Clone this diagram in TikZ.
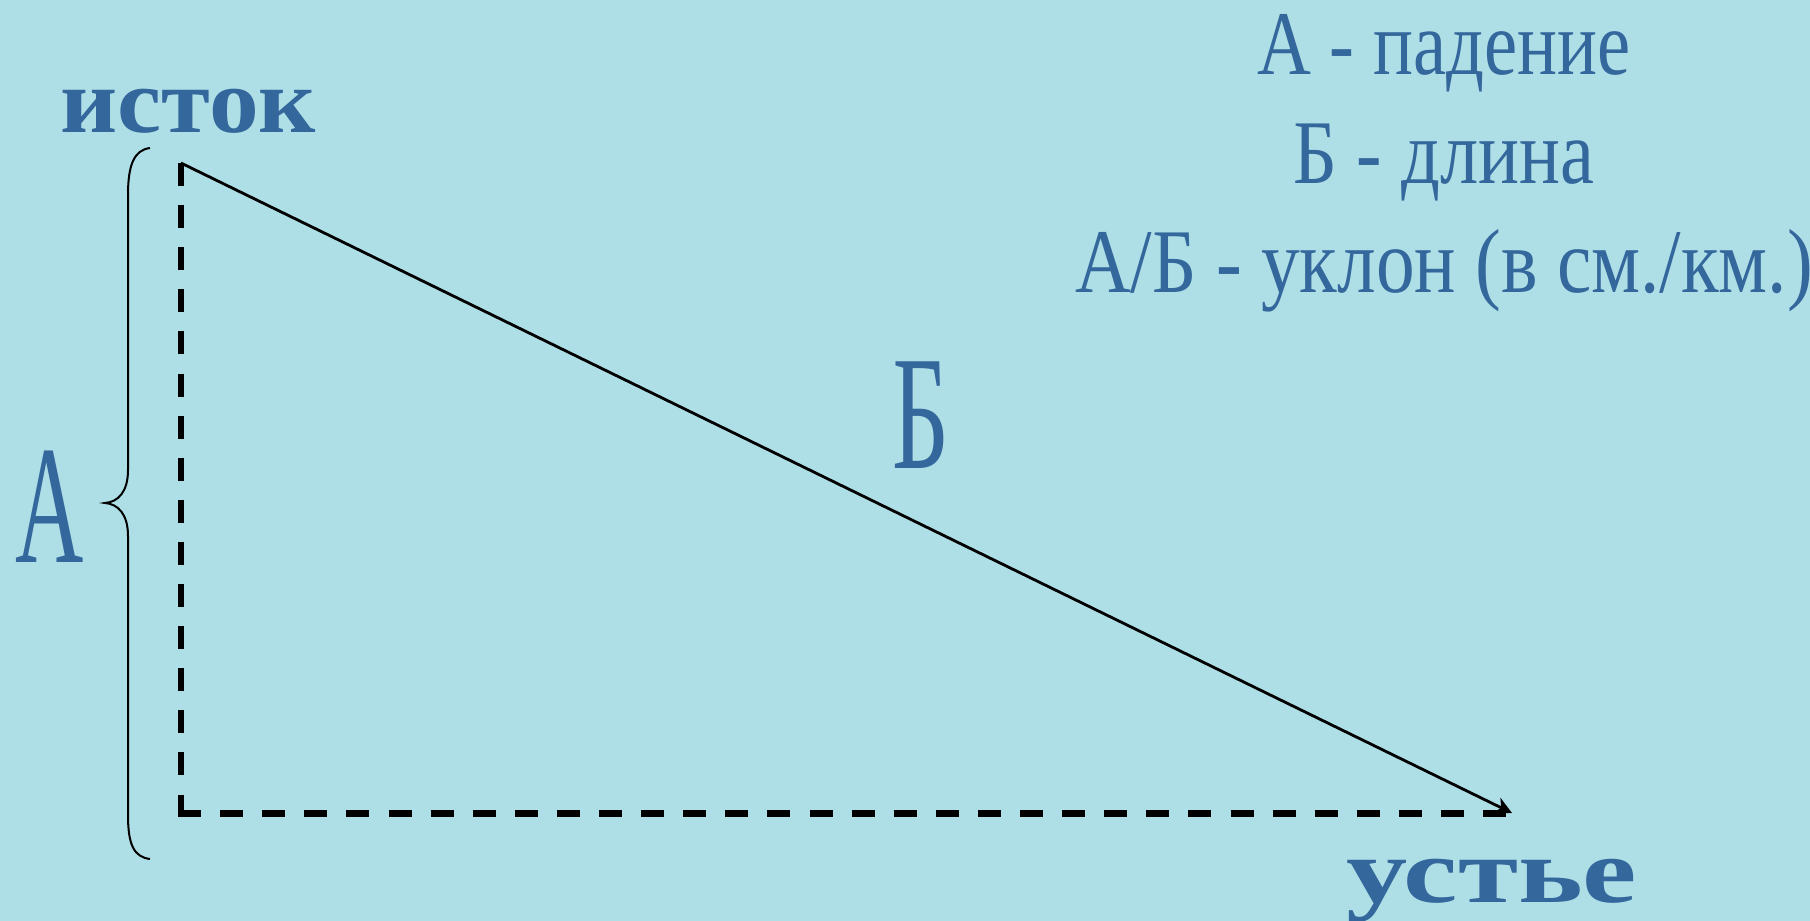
\documentclass[tikz,border=0pt]{standalone}
\usepackage{fontspec}
\setmainfont{Liberation Serif}
\usetikzlibrary{arrows.meta}
\definecolor{bgc}{HTML}{AEDFE7}
\definecolor{txt}{HTML}{34679C}
\tikzset{
  lbl/.style={inner sep=0pt, text=txt},
  dashline/.style={draw=black, line width=6.5pt, dash pattern=on 23pt off 19.1pt},
  slope/.style={draw=black, line width=2.8pt, -{Stealth[length=17pt,width=17pt,inset=5pt]}},
  bracepath/.style={draw=black, line width=2pt}
}
\begin{document}
\begin{tikzpicture}[x=1pt,y=-1pt]
\useasboundingbox (0,0) rectangle (1810,921);
\fill[bgc] (0,0) rectangle (1810,921);
% key points
\coordinate (src) at (181,163);
\coordinate (corner) at (181,817);
\coordinate (hstart) at (178,813.5);
\coordinate (dashend) at (1508,813.5);
\coordinate (mouth) at (1512,813);
% dashed legs
\draw[dashline] (src) -- (corner);
\draw[dashline] (hstart) -- (dashend);
% slope line with arrow
\draw[slope] (src) -- (mouth);
% brace
\draw[bracepath] (150,148) .. controls (134,150) and (128,165) .. (128,195)
  -- (128,470) .. controls (128,492) and (118,502) .. (105,503)
  .. controls (118,504) and (128,514) .. (128,536)
  -- (128,815) .. controls (128,845) and (134,857) .. (150,859);
% labels
\node[lbl, anchor=base west] (istok) at (60,132) {\scalebox{1.08}[1]{\fontsize{92}{92}\selectfont\bfseries исток}};
\node[lbl, anchor=base west] (ustye) at (1346,902) {\scalebox{1.33}[1]{\fontsize{92}{92}\selectfont\bfseries устье}};
\node[lbl, anchor=base west] (A) at (15,562) {\scalebox{0.56}[1]{\fontsize{169}{169}\selectfont А}};
\node[lbl, anchor=base west] (B) at (892,468) {\scalebox{0.61}[1]{\fontsize{163}{163}\selectfont Б}};
\node[lbl, anchor=base] (l1) at (1444,74) {\scalebox{0.82}[1]{\fontsize{91}{91}\selectfont А - падение}};
\node[lbl, anchor=base] (l2) at (1444,183) {\scalebox{0.84}[1]{\fontsize{91}{91}\selectfont Б - длина}};
\node[lbl, anchor=base] (l3) at (1444,292) {\scalebox{0.85}[1]{\fontsize{91}{91}\selectfont А/Б - уклон (в см./км.)}};
\end{tikzpicture}
\end{document}
